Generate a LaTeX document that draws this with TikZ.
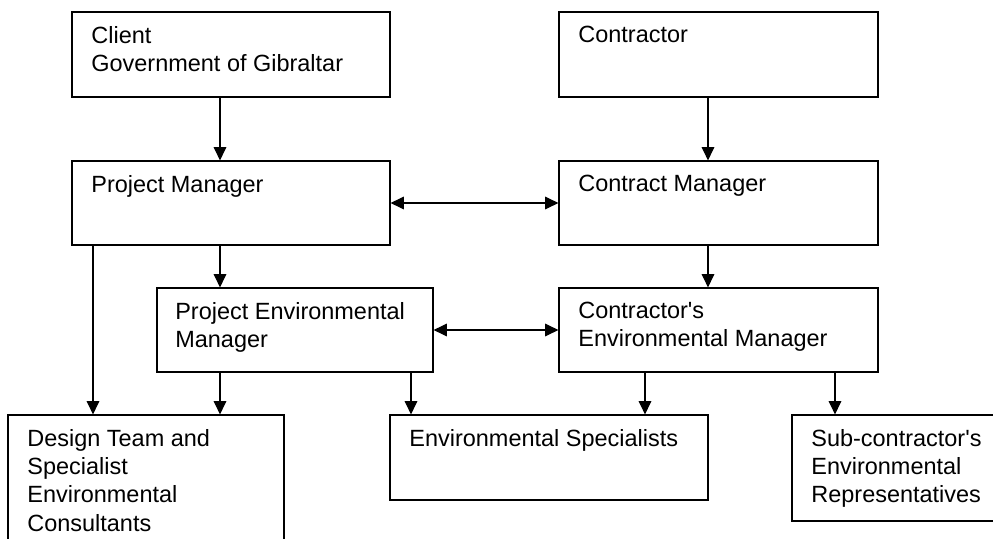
\documentclass[tikz,border=0pt]{standalone}
\usepackage{fontspec}
\setmainfont{Liberation Sans}
\usetikzlibrary{arrows.meta,fit}

\begin{document}
\begin{tikzpicture}
[x=0.75pt,y=-0.75pt,
box/.style={draw,line width=0.9pt,inner sep=0pt},
txt/.style={anchor=north west,align=left,inner xsep=14.8pt,inner ysep=10.8pt,
  font=\fontsize{17.6}{21.3}\selectfont},
arr/.style={line width=0.9pt,-{Triangle[length=10pt,width=9.5pt]}},
both/.style={line width=0.9pt,{Triangle[length=10pt,width=9.5pt]}-{Triangle[length=10pt,width=9.5pt]}}]
\clip (0,0) rectangle (993,539);
\node[box,fit={(72,12) (390,97)},label={[txt]north west:Client\\Government of Gibraltar}] (client) {};
\node[box,fit={(559,12) (878,97)},label={[txt]north west:Contractor}] (contractor) {};
\node[box,fit={(72,161) (390,245)},label={[txt]north west:Project Manager}] (pm) {};
\node[box,fit={(559,161) (878,245)},label={[txt]north west:Contract Manager}] (cm) {};
\node[box,fit={(157,288) (433,372)},label={[txt,inner xsep=14pt]north west:Project Environmental\\Manager}] (pem) {};
\node[box,fit={(559,288) (878,372)},label={[txt]north west:Contractor\textquotesingle s\\Environmental Manager}] (cem) {};
\node[box,fit={(8,415) (284,560)},label={[txt]north west:Design Team and\\Specialist\\Environmental\\Consultants}] (design) {};
\node[box,fit={(390,415) (708,500)},label={[txt]north west:Environmental Specialists}] (spec) {};
\node[box,fit={(792,415) (1000,521)},label={[txt]north west:Sub-contractor\textquotesingle s\\Environmental\\Representatives}] (sub) {};
% arrow columns
\coordinate (c0) at (93,0);
\coordinate (c1) at (220,0);
\coordinate (c2) at (411,0);
\coordinate (c3) at (708,0);
\coordinate (c4) at (645,0);
\coordinate (c5) at (835,0);
\foreach \from/\to/\col in {client/pm/c1,pm/pem/c1,pm/design/c0,pem/design/c1,pem/spec/c2,
  contractor/cm/c3,cm/cem/c3,cem/spec/c4,cem/sub/c5}
\draw[arr] (\from.south -| \col) -- (\to.north -| \col);
\draw[both] (pm.east) -- (cm.west);
\draw[both] (pem.east) -- (cem.west);
\end{tikzpicture}
\end{document}
